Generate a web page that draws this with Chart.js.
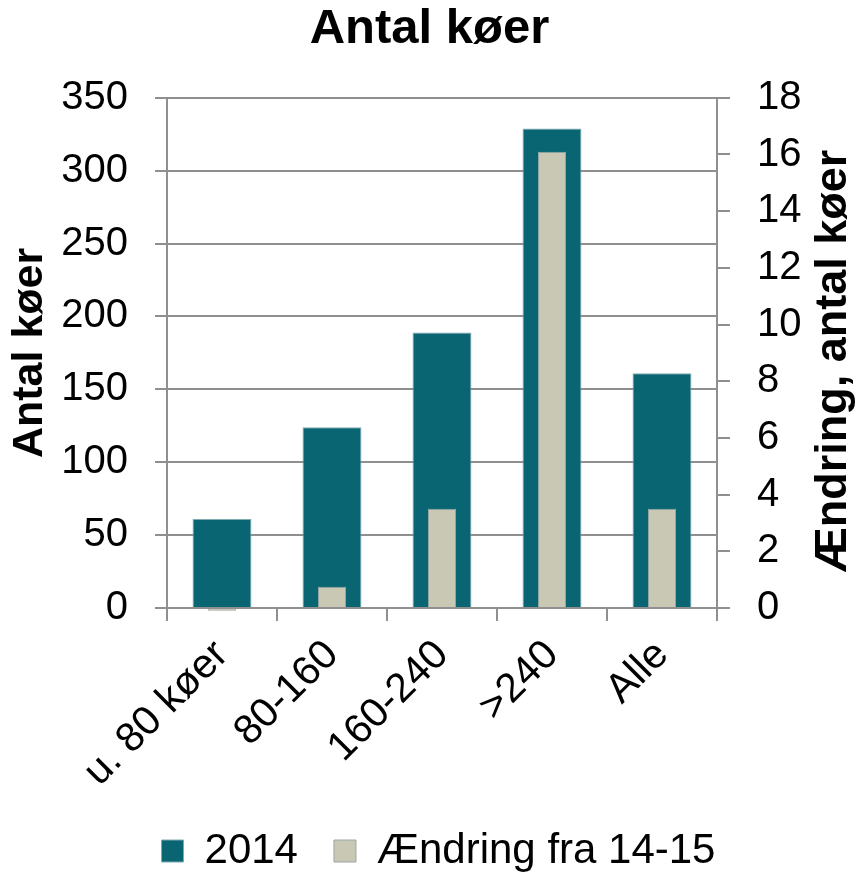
<!DOCTYPE html>
<html>
<head>
<meta charset="utf-8">
<script src="https://cdn.jsdelivr.net/npm/chart.js@4.4.0/dist/chart.umd.min.js"></script>
<style>
  html, body { margin: 0; padding: 0; background: #ffffff; }
  #wrap { width: 859px; height: 876px; position: relative; }
</style>
</head>
<body>
<div id="wrap"><canvas id="c"></canvas></div>
<script>
const categories = ['u. 80 køer', '80-160', '160-240', '>240', 'Alle'];
const values2014 = [61, 124, 189, 329, 161];
const valuesChange = [-0.1, 0.75, 3.5, 16.1, 3.5];
const seriesNames = ['2014', 'Ændring fra 14-15'];
const chartTitle = 'Antal køer';
const leftAxisTitle = 'Antal køer';
const rightAxisTitle = 'Ændring, antal køer';
const leftAxisRange = { min: 0, max: 350, step: 50 };
const rightAxisRange = { min: 0, max: 18, step: 2 };

const FONT = "'Liberation Sans', Arial, sans-serif";
const GRID = '#8f8f8f';
const PLOT_LEFT = 167, PLOT_RIGHT = 717, PLOT_BOTTOM = 608;
const PAD_BOTTOM = -6;
const LEGEND_SHIFT = 9;

Chart.defaults.font.family = FONT;
Chart.defaults.color = '#000000';

const rightTitlePlugin = {
  id: 'rightTitle',
  afterLayout(chart) {
    if (chart.legend) {
      chart.legend.left += LEGEND_SHIFT;
      chart.legend.right += LEGEND_SHIFT;
    }
  },
  afterDraw(chart) {
    const ctx = chart.ctx;
    const area = chart.chartArea;
    ctx.save();
    ctx.font = "bold 45px " + FONT;
    ctx.fillStyle = '#000';
    ctx.textAlign = 'center';
    ctx.textBaseline = 'middle';
    ctx.translate(834, (area.top + area.bottom) / 2 + 8);
    ctx.rotate(-Math.PI / 2);
    ctx.fillText(rightAxisTitle, 0, 0);
    ctx.restore();
  }
};

new Chart(document.getElementById('c'), {
  type: 'bar',
  data: {
    labels: categories,
    datasets: [
      {
        label: seriesNames[0],
        data: values2014,
        yAxisID: 'y',
        backgroundColor: '#086571',
        borderColor: '#7eaab1',
        borderWidth: 1,
        barPercentage: 0.536,
        categoryPercentage: 1,
        grouped: false,
        order: 2
      },
      {
        label: seriesNames[1],
        data: valuesChange,
        yAxisID: 'y1',
        backgroundColor: '#c8c8b4',
        borderColor: '#9aa8a6',
        borderWidth: 1,
        barPercentage: 0.256,
        categoryPercentage: 1,
        grouped: false,
        clip: false,
        order: 1
      }
    ]
  },
  options: {
    responsive: true,
    maintainAspectRatio: false,
    animation: false,
    layout: { padding: { top: 0, left: 0, right: 0, bottom: PAD_BOTTOM } },
    plugins: {
      title: {
        display: true,
        text: chartTitle,
        color: '#000',
        font: { size: 49, weight: 'bold', family: FONT },
        padding: { top: 0, bottom: 39 }
      },
      legend: {
        position: 'bottom',
        labels: {
          color: '#000',
          font: { size: 42, family: FONT },
          boxWidth: 22,
          boxHeight: 22,
          padding: 36,
          sort: (a, b) => a.datasetIndex - b.datasetIndex
        }
      },
      tooltip: { enabled: false }
    },
    scales: {
      x: {
        offset: true,
        grid: {
          offset: true,
          drawOnChartArea: false,
          drawTicks: true,
          tickLength: 13,
          color: GRID,
          lineWidth: 2
        },
        border: { display: true, color: GRID, width: 2 },
        ticks: {
          minRotation: 45,
          maxRotation: 45,
          autoSkip: false,
          padding: 10,
          color: '#000',
          font: { size: 41, family: FONT }
        },
        afterFit(scale) {
          const lg = scale.chart.legend ? scale.chart.legend.height : 60;
          scale.height = 876 - PLOT_BOTTOM - lg - PAD_BOTTOM;
        }
      },
      y: {
        position: 'left',
        min: leftAxisRange.min,
        max: leftAxisRange.max,
        ticks: {
          stepSize: leftAxisRange.step,
          padding: 27,
          color: '#000',
          font: { size: 40, family: FONT }
        },
        grid: {
          color: GRID,
          lineWidth: 2,
          drawTicks: true,
          tickLength: 12
        },
        border: { display: true, color: GRID, width: 2 },
        title: {
          display: true,
          text: leftAxisTitle,
          color: '#000',
          font: { size: 43, weight: 'bold', family: FONT },
          padding: { top: 4, bottom: 0 }
        },
        afterFit(scale) { scale.width = PLOT_LEFT; }
      },
      y1: {
        position: 'right',
        min: rightAxisRange.min,
        max: rightAxisRange.max,
        ticks: {
          stepSize: rightAxisRange.step,
          padding: 27,
          color: '#000',
          font: { size: 40, family: FONT }
        },
        grid: {
          drawOnChartArea: false,
          drawTicks: true,
          tickLength: 13,
          color: GRID,
          lineWidth: 2
        },
        border: { display: true, color: GRID, width: 2 },
        afterFit(scale) { scale.width = 859 - PLOT_RIGHT; }
      }
    }
  },
  plugins: [rightTitlePlugin]
});
</script>
</body>
</html>
